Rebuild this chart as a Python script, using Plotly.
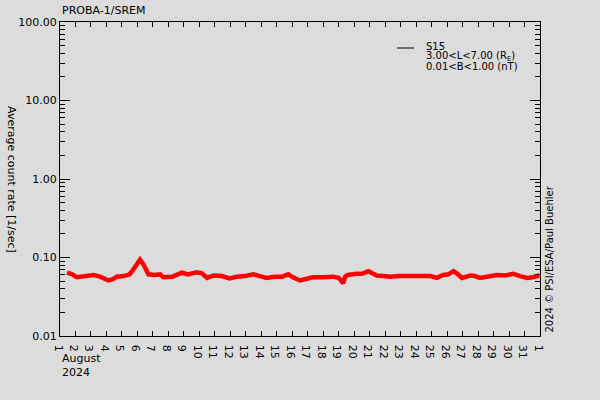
import plotly.graph_objects as go

########################
# data
########################

times = [
    "2024-08-01 11:00", "2024-08-01 19:00", "2024-08-02 02:00", "2024-08-02 14:00",
    "2024-08-03 04:00", "2024-08-03 14:00", "2024-08-04 03:00", "2024-08-04 10:00",
    "2024-08-04 16:00", "2024-08-05 03:00", "2024-08-05 12:00", "2024-08-05 20:00",
    "2024-08-06 04:00", "2024-08-06 10:00", "2024-08-06 17:00", "2024-08-07 03:00",
    "2024-08-07 11:00", "2024-08-07 16:00", "2024-08-08 06:00", "2024-08-08 21:00",
    "2024-08-09 06:00", "2024-08-09 20:00", "2024-08-10 04:00", "2024-08-10 12:00",
    "2024-08-10 22:00", "2024-08-11 11:00", "2024-08-11 23:00", "2024-08-12 10:00",
    "2024-08-12 23:00", "2024-08-13 12:00", "2024-08-13 22:00", "2024-08-14 08:00",
    "2024-08-14 21:00", "2024-08-15 08:00", "2024-08-15 18:00", "2024-08-16 01:00",
    "2024-08-16 12:00", "2024-08-16 21:00", "2024-08-17 08:00", "2024-08-17 23:00",
    "2024-08-18 15:00", "2024-08-19 00:00", "2024-08-19 07:00", "2024-08-19 10:00",
    "2024-08-19 14:00", "2024-08-20 04:00", "2024-08-20 12:00", "2024-08-20 22:00",
    "2024-08-21 04:00", "2024-08-21 11:00", "2024-08-21 21:00", "2024-08-22 08:00",
    "2024-08-22 20:00", "2024-08-23 09:00", "2024-08-23 22:00", "2024-08-24 11:00",
    "2024-08-24 22:00", "2024-08-25 08:00", "2024-08-25 18:00", "2024-08-26 02:00",
    "2024-08-26 10:00", "2024-08-26 16:00", "2024-08-26 23:00", "2024-08-27 12:00",
    "2024-08-27 19:00", "2024-08-28 03:00", "2024-08-28 16:00", "2024-08-29 05:00",
    "2024-08-29 18:00", "2024-08-30 07:00", "2024-08-30 17:00", "2024-08-31 04:00",
    "2024-08-31 13:00", "2024-08-31 23:00",
]
count_rate = [
    0.064, 0.061, 0.056, 0.057,
    0.060, 0.057, 0.051, 0.053,
    0.057, 0.058, 0.061, 0.075,
    0.094, 0.080, 0.061, 0.060,
    0.061, 0.056, 0.057, 0.064,
    0.061, 0.065, 0.063, 0.055,
    0.059, 0.058, 0.054, 0.057,
    0.058, 0.061, 0.058, 0.055,
    0.057, 0.057, 0.061, 0.056,
    0.051, 0.054, 0.056, 0.056,
    0.057, 0.055, 0.047, 0.057,
    0.060, 0.062, 0.062, 0.067,
    0.063, 0.059, 0.058, 0.057,
    0.058, 0.058, 0.058, 0.059,
    0.058, 0.055, 0.060, 0.061,
    0.067, 0.062, 0.055, 0.059,
    0.058, 0.055, 0.058, 0.060,
    0.059, 0.062, 0.058, 0.055,
    0.056, 0.059,
]

y_tickvals = [0.01, 0.1, 1, 10, 100]
y_ticktext = ["0.01", "0.10", "1.00", "10.00", "100.00"]
y_minor = [m * 10 ** e for e in range(-2, 2) for m in range(2, 10)]

legend_lines = ["S15", "3.00&lt;L&lt;7.00 (R<sub>E</sub>)", "0.01&lt;B&lt;1.00 (nT)"]

font = dict(family="DejaVu Sans", size=11, color="black")
small = dict(family="DejaVu Sans", size=10, color="black")
bg = "#dcdcdc"

# plot box in page pixels
L, R, T, B = 60, 540, 22, 336
W, H = R - L, B - T

def px(x):
    return (x - L) / W

def py(y):
    return (B - y) / H

fig = go.Figure()
fig.add_trace(go.Scatter(
    x=times, y=count_rate, mode="lines",
    line=dict(color="red", width=4.5),
    showlegend=False))

fig.update_layout(
    width=600, height=400,
    margin=dict(l=L, r=600 - R, t=T, b=400 - B, autoexpand=False),
    paper_bgcolor=bg, plot_bgcolor=bg,
    font=font,
    showlegend=False,
    xaxis=dict(
        type="date", automargin=False,
        range=["2024-08-01", "2024-09-01"],
        dtick=86400000, tick0="2024-08-01",
        tickformat="%-d",
        ticks="inside", ticklen=5, tickcolor="black",
        showline=True, linecolor="black", linewidth=1,
        mirror="ticks", showgrid=False, zeroline=False,
        tickfont=font),
    yaxis=dict(
        type="log", automargin=False,
        range=[-2, 2],
        tickvals=y_tickvals, ticktext=y_ticktext,
        ticks="inside", ticklen=10, tickcolor="black",
        minor=dict(tickvals=y_minor, ticks="inside", ticklen=5, tickcolor="black", showgrid=False),
        showline=True, linecolor="black", linewidth=1,
        mirror="ticks", showgrid=False, zeroline=False,
        tickfont=font),
)

# title, axis title, legend and credits
fig.add_annotation(text="PROBA-1/SREM", xref="paper", yref="paper",
                   x=0, y=py(10), xanchor="left", yanchor="middle",
                   showarrow=False, font=font)
fig.add_annotation(text="Average count rate [1/sec]", xref="paper", yref="paper",
                   x=px(12), y=0.5, xanchor="center", yanchor="middle",
                   textangle=90, showarrow=False, font=font)
fig.add_shape(type="line", xref="paper", yref="paper",
              x0=px(397), x1=px(414), y0=py(48), y1=py(48),
              line=dict(color="black", width=1))
for i, line in enumerate(legend_lines):
    fig.add_annotation(text=line, xref="paper", yref="paper",
                       x=px(424), y=py(47 + 9.5 * i), xanchor="left", yanchor="middle",
                       showarrow=False, font=small)
fig.add_annotation(text="August", xref="paper", yref="paper",
                   x=0, y=py(358), xanchor="left", yanchor="middle",
                   showarrow=False, font=font)
fig.add_annotation(text="2024", xref="paper", yref="paper",
                   x=0, y=py(372), xanchor="left", yanchor="middle",
                   showarrow=False, font=font)
fig.add_annotation(text="2024 © PSI/ESA/Paul Buehler", xref="paper", yref="paper",
                   x=px(549), y=py(335), xanchor="center", yanchor="bottom",
                   textangle=-90, showarrow=False, font=small)

# drop the default body margin so the figure sits at the page corner
fig.write_html("out.html", config={"displayModeBar": False},
               post_script="document.body.style.margin='0';")
